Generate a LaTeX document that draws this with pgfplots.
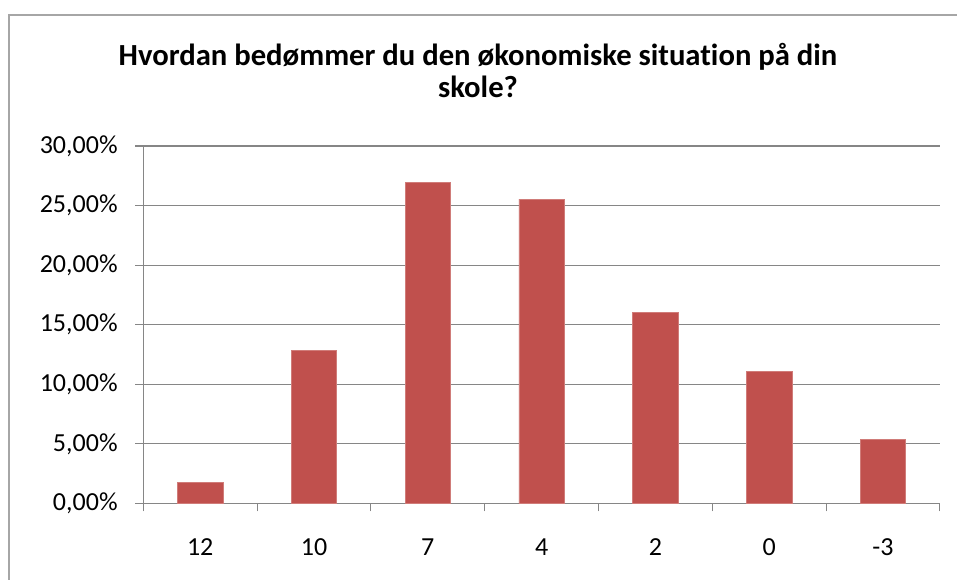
\documentclass[border=0pt]{standalone}
\usepackage{pgfplots}
\pgfplotsset{compat=1.18}
\usepackage{fontspec}
\setmainfont{Carlito}[Ligatures=NoCommon]
\definecolor{barred}{HTML}{C0504D}
\definecolor{gridgray}{HTML}{868686}
\definecolor{framegray}{HTML}{A6A6A6}
\begin{document}
\begin{tikzpicture}
\path[use as bounding box] (0pt,0pt) rectangle (717.75pt,435pt);
\draw[framegray, line width=1.1pt] (6.75pt,0pt) -- (6.75pt,423.75pt) -- (717.75pt,423.75pt);
\node[font=\fontsize{23}{27}\selectfont\bfseries, anchor=base, inner sep=0pt] at (358.5pt,385.5pt) {Hvordan bedømmer du den økonomiske situation på din};
\node[font=\fontsize{23}{27}\selectfont\bfseries, anchor=base, inner sep=0pt] at (358.5pt,361.5pt) {skole?};
\begin{axis}[
  at={(107.475pt,57.375pt)}, anchor=south west,
  scale only axis, width=597.5pt, height=268.1pt,
  xmin=-0.5, xmax=6.5, ymin=0, ymax=30,
  axis lines*=left,
  ymajorgrids, grid style={gridgray, line width=0.8pt},
  axis line style={gridgray, line width=0.8pt},
  ytick={0,5,10,15,20,25,30},
  yticklabels={{0,00\%},{5,00\%},{10,00\%},{15,00\%},{20,00\%},{25,00\%},{30,00\%}},
  xtick={0,1,2,3,4,5,6},
  xticklabels={12,10,7,4,2,0,-3},
  minor xtick={-0.5,0.5,1.5,2.5,3.5,4.5,5.5,6.5},
  major x tick style={draw=none},
  tick align=outside, major tick length=6pt, minor tick length=6pt,
  tick style={gridgray, line width=0.8pt},
  ticklabel style={font=\fontsize{19.5}{22}\selectfont, text=black},
  yticklabel style={xshift=-9.75pt},
  xticklabel style={yshift=-17pt},
  ybar, bar width=34.1pt,
]
\addplot[fill=barred, draw=barred!75!white, line width=0.5pt] coordinates {(0,1.75) (1,12.82) (2,26.97) (3,25.55) (4,16.04) (5,11.06) (6,5.39)};
\end{axis}
\end{tikzpicture}
\end{document}
